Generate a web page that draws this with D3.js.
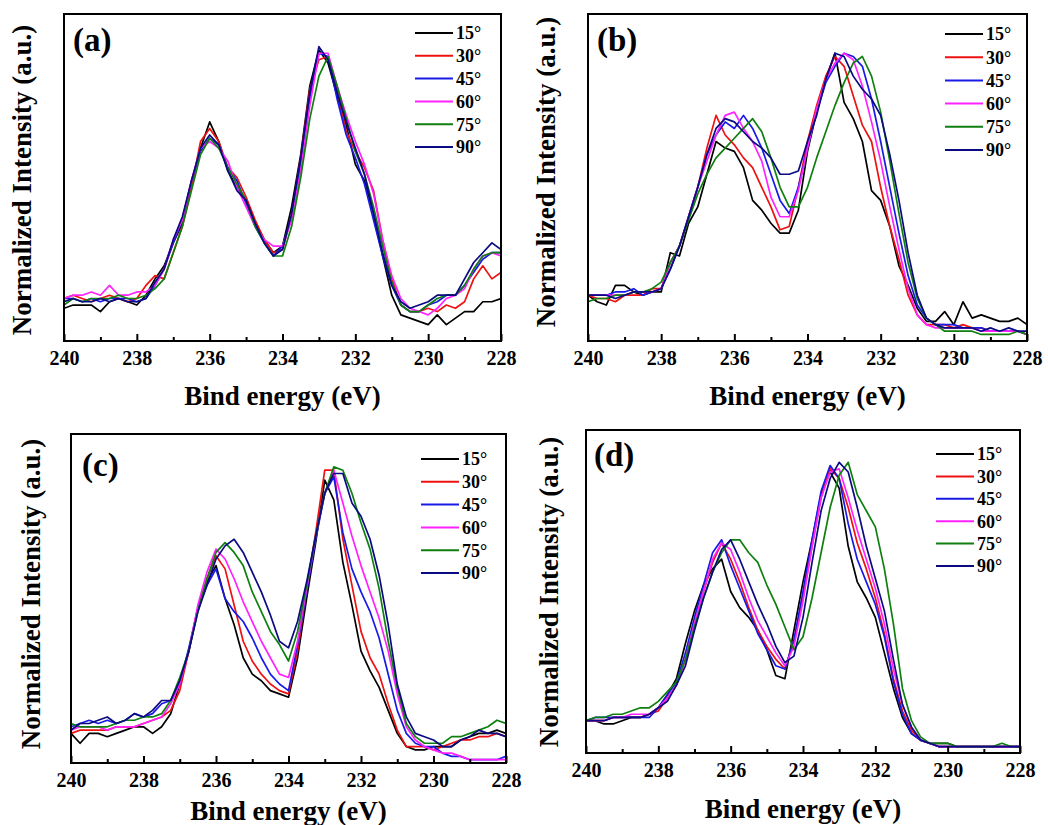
<!DOCTYPE html>
<html>
<head>
<meta charset="utf-8">
<script src="https://cdn.jsdelivr.net/npm/d3@7"></script>
<style>
  body { margin: 0; background: #fff; }
</style>
</head>
<body>
<div id="chart"></div>
<script>
// Binding energy grid shared by every spectrum (eV)
const energy = [240, 239.75, 239.5, 239.25, 239, 238.75, 238.5, 238.25, 238, 237.75,
  237.5, 237.25, 237, 236.75, 236.5, 236.25, 236, 235.75, 235.5, 235.25,
  235, 234.75, 234.5, 234.25, 234, 233.75, 233.5, 233.25, 233, 232.75,
  232.5, 232.25, 232, 231.75, 231.5, 231.25, 231, 230.75, 230.5, 230.25,
  230, 229.75, 229.5, 229.25, 229, 228.75, 228.5, 228.25, 228];

const angles = ["15°", "30°", "45°", "60°", "75°", "90°"];
const majorTicks = [240, 238, 236, 234, 232, 230, 228];
const minorTicks = [239, 237, 235, 233, 231, 229];

// Panel (a) normalized intensity
const a15 = [10,11,11,11,9,12,13,12,11,14, 19,23,30,36,48,59,67,61,52,47, 43,36,31,27,29,41,57,78,89,85, 75,66,54,49,39,26,14,8,7,6, 5,8,5,7,9,9,12,12,13];
const a30 = [13,14,13,12,13,14,13,12,13,17, 20,19,27,35,47,61,65,61,53,50, 44,37,31,27,28,38,56,77,86,87, 77,64,58,53,46,31,19,11,9,9, 10,9,11,10,12,19,23,19,21];
const a45 = [13,13,12,13,12,13,13,13,12,13, 17,22,30,37,49,58,62,60,53,49, 42,35,30,26,29,38,54,74,88,87, 74,63,56,48,37,26,17,11,9,9, 11,12,14,14,17,21,25,27,27];
const a60 = [13,14,14,15,14,17,14,14,15,15, 17,22,31,37,49,59,61,59,55,47, 41,35,31,29,29,37,52,72,88,88, 78,69,61,54,45,31,20,13,10,9, 8,10,13,14,16,22,26,27,26];
const a75 = [11,13,12,13,13,13,14,13,13,14, 16,19,27,35,46,57,62,59,53,48, 43,35,30,26,26,35,50,68,81,87, 78,68,58,51,41,29,18,11,9,9, 11,13,14,14,17,22,26,27,27];
const a90 = [12,13,12,12,13,12,13,12,12,13, 18,22,31,38,49,59,63,60,52,46, 43,36,30,26,28,39,56,76,90,86, 76,67,59,51,39,27,17,12,10,11, 12,14,14,14,19,24,27,30,28];

// Panel (b)
const b15 = [14,12,11,17,17,15,14,15,15,27, 26,36,41,51,61,59,58,53,43,40, 36,33,33,40,58,70,80,88,73,68, 61,46,43,35,23,17,10,6,6,9, 5,12,7,8,7,6,6,7,5];
const b30 = [14,13,13,12,14,14,14,16,16,24, 29,38,47,59,69,63,60,56,53,47, 41,34,35,47,61,72,81,87,84,75, 66,61,47,35,25,14,8,5,5,5, 4,5,4,4,3,3,3,3,2];
const b45 = [14,14,14,15,15,16,14,15,16,22, 29,38,47,57,63,67,65,69,65,59, 51,43,39,47,59,70,79,84,88,87, 84,74,61,47,33,20,11,7,5,5, 5,4,4,4,3,3,3,3,2];
const b60 = [14,14,14,14,14,15,15,15,16,24, 29,38,47,55,63,69,70,65,61,55, 44,38,38,46,59,71,80,85,88,86, 78,67,55,41,28,16,8,5,4,4, 4,4,4,3,3,3,3,3,2];
const b75 = [12,13,13,14,14,15,15,16,18,24, 29,37,45,51,56,59,62,65,68,64, 56,47,41,41,47,56,64,72,79,85, 87,81,70,55,39,24,13,7,5,3, 3,3,3,2,2,2,2,3,2];
const b90 = [14,14,14,13,14,15,15,15,16,22, 29,38,47,57,65,68,67,64,61,59, 56,51,51,52,61,69,80,88,87,81, 77,74,69,57,43,27,14,7,5,4, 4,4,4,3,4,3,4,3,3];

// Panel (c)
const c15 = [9,6,9,9,8,9,10,11,11,9, 11,15,24,34,47,55,60,50,42,32, 27,25,22,21,20,32,50,67,86,80, 61,48,34,28,23,16,9,5,4,4, 5,5,5,7,8,9,9,10,9];
const c30 = [9,10,10,10,10,11,11,11,12,13, 14,16,22,34,47,56,63,59,48,37, 31,27,24,22,21,34,53,70,89,89, 68,54,40,32,27,18,10,5,5,5, 4,5,6,7,7,8,8,9,8];
const c45 = [11,12,13,12,13,12,13,15,14,15, 18,19,24,35,47,54,59,50,46,43, 38,32,27,24,22,36,52,68,82,87, 70,59,52,46,38,27,16,9,6,5, 5,3,2,2,1,1,1,1,2];
const c60 = [10,11,11,11,10,11,11,11,12,13, 14,18,24,34,48,58,65,62,56,49, 43,37,32,27,26,37,53,69,82,89, 79,69,60,52,44,34,21,11,7,5, 4,3,3,2,1,1,1,1,1];
const c75 = [12,11,11,11,11,12,13,13,14,14, 15,19,26,34,46,56,64,67,64,60, 52,46,40,36,31,40,54,69,82,90, 89,82,73,65,53,37,23,12,8,6, 6,6,8,8,9,10,11,13,12];
const c90 = [10,12,12,13,14,12,13,15,14,16, 19,19,25,34,46,54,62,66,68,64, 58,52,45,37,35,43,55,69,82,88, 88,79,75,68,57,42,24,14,9,8, 7,5,5,7,8,10,9,9,8];

// Panel (d)
const d15 = [10,10,9,9,10,11,11,12,14,18, 23,34,44,52,57,60,50,45,42,38, 32,24,23,38,53,66,80,87,82,64, 53,48,42,31,20,11,6,4,3,3, 3,2,2,2,2,2,2,2,2];
const d30 = [10,10,10,11,11,11,11,12,13,17, 21,29,40,50,59,65,60,53,45,38, 33,29,26,35,48,64,79,88,85,76, 65,57,48,37,23,13,7,4,3,2, 2,2,2,2,2,2,2,2,2];
const d45 = [10,11,11,11,11,11,11,11,14,18, 22,31,42,52,62,66,58,51,44,37, 32,27,26,35,50,66,81,89,85,71, 60,53,46,36,22,12,6,4,3,2, 2,2,2,2,2,2,2,2,2];
const d60 = [10,10,10,11,11,12,12,12,14,17, 21,29,40,50,60,65,63,56,48,41, 36,31,27,33,47,64,79,87,88,79, 69,60,51,40,26,15,8,4,3,2, 2,2,2,2,2,2,2,2,2];
const d75 = [10,11,11,12,12,13,14,14,16,19, 22,29,39,48,56,62,66,66,62,59, 52,46,39,32,36,48,62,76,86,90, 80,75,70,57,40,20,10,5,3,3, 3,2,2,2,2,2,3,2,2];
const d90 = [10,10,10,11,11,11,11,12,14,16, 21,27,38,48,56,63,66,60,53,46, 40,33,28,30,42,59,75,85,90,87, 76,64,54,44,29,15,8,4,3,2, 2,2,2,2,2,2,2,2,2];

const colors = ["#000000", "#ee1111", "#1a1ae6", "#ff22ff", "#0f7f0f", "#0a0a82"];
const serif = "'Liberation Serif', 'Times New Roman', Times, serif";

// Layout of each panel (plot box in px, legend anchor, label and title positions)
const panels = [
  { label: "(a)", series: [a15, a30, a45, a60, a75, a90], box: { x0: 64, y0: 14, x1: 501, y1: 341 },
    legend: { x: 415, y: 33, dy: 22.8 }, labelPos: [73, 51], yTitle: [22, 180], xTitleY: 405 },
  { label: "(b)", series: [b15, b30, b45, b60, b75, b90], box: { x0: 588, y0: 14, x1: 1027, y1: 341 },
    legend: { x: 945, y: 34, dy: 23.2 }, labelPos: [597, 51], yTitle: [546, 172], xTitleY: 405 },
  { label: "(c)", series: [c15, c30, c45, c60, c75, c90], box: { x0: 71, y0: 434, x1: 506, y1: 763 },
    legend: { x: 421, y: 459, dy: 22.8 }, labelPos: [82, 476], yTitle: [31, 594], xTitleY: 820 },
  { label: "(d)", series: [d15, d30, d45, d60, d75, d90], box: { x0: 586, y0: 430, x1: 1020, y1: 753 },
    legend: { x: 936, y: 454, dy: 22.4 }, labelPos: [594, 466], yTitle: [549, 592], xTitleY: 818 }
];

const svg = d3.select("#chart")
  .append("svg")
  .attr("width", 1048)
  .attr("height", 825)
  .attr("font-family", serif)
  .attr("font-weight", "bold");

panels.forEach((p, i) => {
  const b = p.box;
  const x = d3.scaleLinear().domain([240, 228]).range([b.x0, b.x1]);
  const y = d3.scaleLinear().domain([0, 100]).range([b.y1, b.y0]);
  const g = svg.append("g");

  g.append("clipPath").attr("id", "clip" + i)
    .append("rect")
    .attr("x", b.x0).attr("y", b.y0)
    .attr("width", b.x1 - b.x0).attr("height", b.y1 - b.y0);

  // spectra
  const line = d3.line()
    .x((d, k) => x(energy[k]))
    .y(d => y(d));

  g.append("g").attr("clip-path", `url(#clip${i})`)
    .selectAll("path")
    .data(p.series)
    .enter()
    .append("path")
    .attr("d", line)
    .attr("fill", "none")
    .attr("stroke", (d, k) => colors[k])
    .attr("stroke-width", 1.7)
    .attr("stroke-linejoin", "round");

  // bottom axis, ticks pointing inward
  const axis = g.append("g")
    .attr("transform", `translate(0, ${b.y1})`)
    .call(d3.axisBottom(x).tickValues(majorTicks).tickSize(-7).tickPadding(10).tickFormat(d3.format("d")));
  axis.attr("font-family", null).attr("font-size", null);
  axis.select(".domain").remove();
  axis.selectAll(".tick line").attr("stroke", "#000").attr("stroke-width", 2);
  axis.selectAll(".tick text")
    .attr("fill", "#000")
    .style("font-family", serif)
    .style("font-weight", "bold")
    .style("font-size", "20px");

  const minor = g.append("g")
    .attr("transform", `translate(0, ${b.y1})`)
    .call(d3.axisBottom(x).tickValues(minorTicks).tickSize(-4).tickFormat(""));
  minor.select(".domain").remove();
  minor.selectAll(".tick line").attr("stroke", "#000").attr("stroke-width", 2);

  // frame
  g.append("rect")
    .attr("x", b.x0).attr("y", b.y0)
    .attr("width", b.x1 - b.x0).attr("height", b.y1 - b.y0)
    .attr("fill", "none")
    .attr("stroke", "#000")
    .attr("stroke-width", 2);

  // panel label
  g.append("text")
    .attr("x", p.labelPos[0]).attr("y", p.labelPos[1])
    .style("font-family", serif)
    .style("font-size", "33px")
    .text(p.label);

  // axis titles
  g.append("text")
    .attr("x", (b.x0 + b.x1) / 2).attr("y", p.xTitleY)
    .attr("text-anchor", "middle")
    .style("font-family", serif)
    .style("font-size", "27px")
    .text("Bind energy (eV)");

  g.append("text")
    .attr("transform", `translate(${p.yTitle[0]}, ${p.yTitle[1]}) rotate(-90)`)
    .attr("text-anchor", "middle")
    .attr("dy", "0.35em")
    .style("font-family", serif)
    .style("font-size", "27px")
    .text("Normalized Intensity (a.u.)");

  // legend
  const legend = g.append("g");
  angles.forEach((a, k) => {
    const ly = p.legend.y + k * p.legend.dy;
    legend.append("line")
      .attr("x1", p.legend.x).attr("x2", p.legend.x + 38)
      .attr("y1", ly).attr("y2", ly)
      .attr("stroke", colors[k])
      .attr("stroke-width", 2);
    legend.append("text")
      .attr("x", p.legend.x + 41).attr("y", ly)
      .attr("dy", "0.35em")
      .style("font-family", serif)
      .style("font-size", "18px")
      .text(a);
  });
});
</script>
</body>
</html>
